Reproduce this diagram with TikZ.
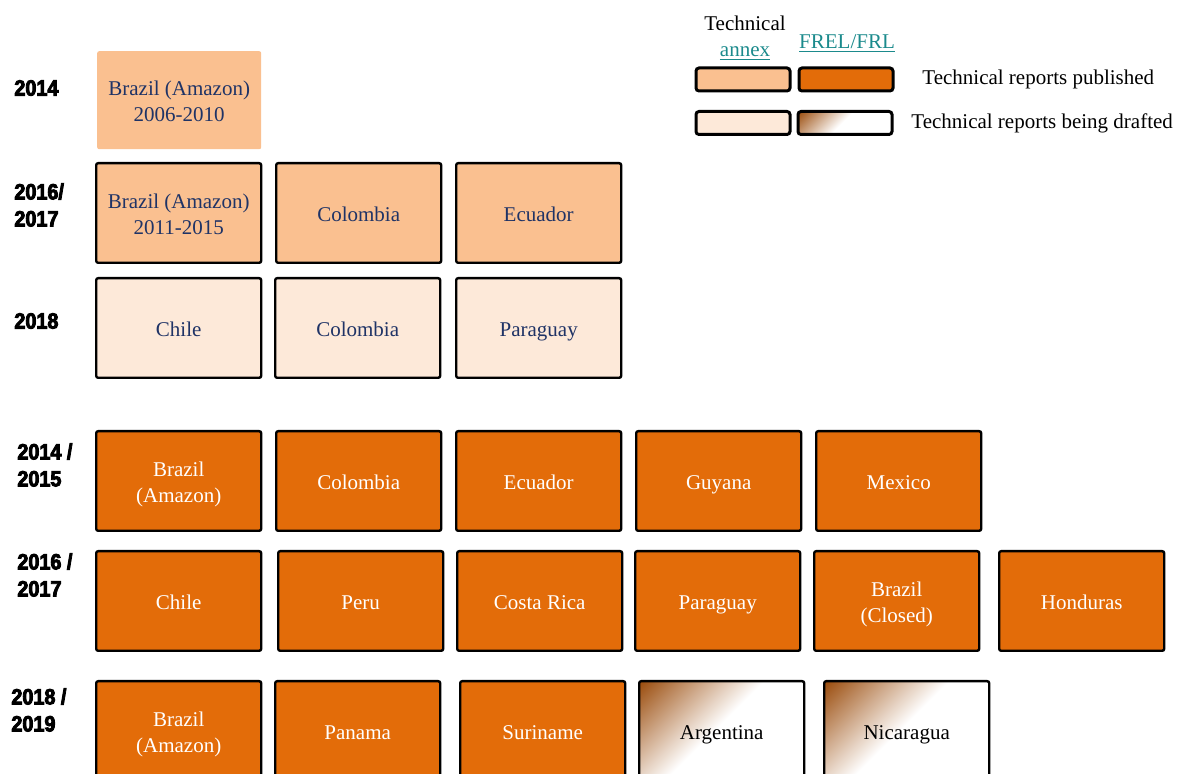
\documentclass[tikz,border=0pt]{standalone}
\usepackage{fontspec}
\setmainfont{Liberation Serif}
\newfontfamily\yearfont{Liberation Sans}[BoldFeatures={FakeBold=4,FakeStretch=0.9}]
\usetikzlibrary{positioning}
\definecolor{annexlight}{HTML}{FAC090}
\definecolor{annexpale}{HTML}{FDE9D9}
\definecolor{frelorange}{HTML}{E36C09}
\definecolor{boxtext}{HTML}{1F3366}
\definecolor{linkteal}{HTML}{1B8A8C}
\definecolor{draftbrown}{HTML}{984807}
\pgfdeclarehorizontalshading{drafted}{100bp}{color(0bp)=(draftbrown); color(14bp)=(draftbrown); color(48bp)=(white); color(100bp)=(white)}

\begin{document}
\begin{tikzpicture}[x=0.5pt, y=-0.5pt,
    every node/.style={font=\fontsize{10.5}{13}\selectfont},
    box/.style={draw, line width=1.2pt, rounded corners=1pt, minimum width=82.5pt,
        minimum height=49.8pt, align=center, inner sep=1pt, anchor=north west,
        text height=12.1pt, text depth=3.9pt},
    oneline/.style={},
    twoline/.style={text height=25pt},
    annexbox/.style={box, fill=annexlight, text=boxtext},
    annexdraft/.style={box, fill=annexpale, text=boxtext},
    frelbox/.style={box, fill=frelorange, text=white},
    freldraft/.style={box, shade, shading=drafted, shading angle=-45, text=black},
    year/.style={anchor=west, align=left, inner sep=0pt,
        font=\yearfont\bfseries\fontsize{11}{13.5}\selectfont},
    legbox/.style={draw, line width=1.5pt, rounded corners=1.5pt, minimum width=47pt,
        minimum height=11.5pt, inner sep=0pt}]

\useasboundingbox (0,0) rectangle (1179,774);

% technical annex
\node[annexbox, twoline, draw=none, minimum width=82pt, minimum height=49pt] (annexA-1) at (96,50)
    {Brazil (Amazon)\\2006-2010};
\foreach \xpos/\txt/\lines [count=\i] in {95/{Brazil (Amazon)\\2011-2015}/twoline,
    275/Colombia/oneline, 455/Ecuador/oneline}
    \node[annexbox, \lines] (annexB-\i) at (\xpos,162) {\txt};
\foreach \xpos/\txt [count=\i] in {95/Chile, 274/Colombia, 455/Paraguay}
    \node[annexdraft] (annexC-\i) at (\xpos,277) {\txt};

% FREL/FRL
\foreach \xpos/\txt/\lines [count=\i] in {95/{Brazil\\(Amazon)}/twoline, 275/Colombia/oneline,
    455/Ecuador/oneline, 635/Guyana/oneline, 815/Mexico/oneline}
    \node[frelbox, \lines] (frelA-\i) at (\xpos,430) {\txt};
\foreach \xpos/\txt/\lines [count=\i] in {95/Chile/oneline, 277/Peru/oneline,
    456/Costa Rica/oneline, 634/Paraguay/oneline, 813/{Brazil\\(Closed)}/twoline, 998/Honduras/oneline}
    \node[frelbox, \lines] (frelB-\i) at (\xpos,550) {\txt};
\foreach \xpos/\txt/\lines [count=\i] in {95/{Brazil\\(Amazon)}/twoline, 274/Panama/oneline,
    459/Suriname/oneline}
    \node[frelbox, \lines] (frelC-\i) at (\xpos,680) {\txt};
\foreach \xpos/\txt [count=\i from 4] in {638/Argentina, 823/Nicaragua}
    \node[freldraft] (frelC-\i) at (\xpos,680) {\txt};

\node[year] (y14) at (14,88) {2014};
\node[year] (y16) at (14,205) {2016/\\2017};
\node[year] (y18) at (14,321) {2018};
\node[year] (y1415) at (17,465) {2014 /\\2015};
\node[year] (y1617) at (17,575) {2016 /\\2017};
\node[year] (y1819) at (11,710) {2018 /\\2019};

% legend
\node[align=center] (hdannex) at (745,38) {Technical\\\textcolor{linkteal}{\underline{annex}}};
\node (hdfrel) at (847,44) {\textcolor{linkteal}{\underline{FREL/FRL}}};
\node[legbox, fill=annexlight] (legpub) at (743,79.5) {};
\node[legbox, fill=frelorange, right=3pt of legpub] (legfrel) {};
\node[legbox, fill=annexpale] (legdraft) at (743,123) {};
\node[legbox, shade, shading=drafted, shading angle=-45, right=2.5pt of legdraft] (legfreldraft) {};
\node[anchor=west, inner sep=0pt] (legtxtA) at (922,79) {Technical reports published};
\node[anchor=west, inner sep=0pt] (legtxtB) at (911,123) {Technical reports being drafted};

\end{tikzpicture}
\end{document}
